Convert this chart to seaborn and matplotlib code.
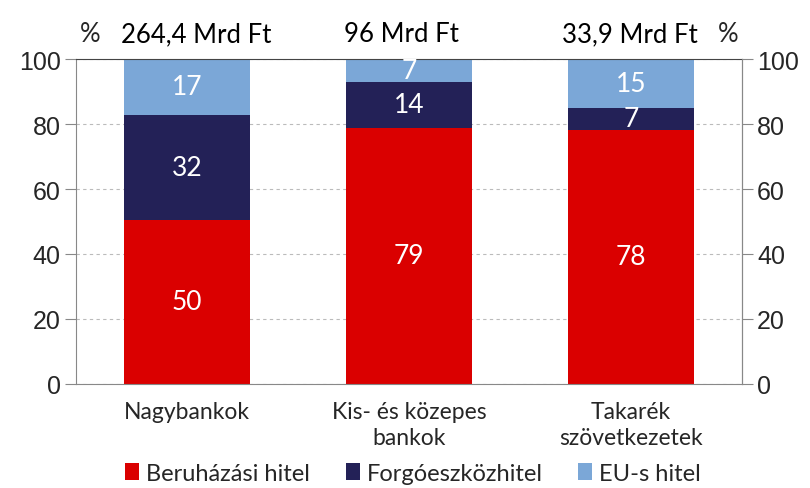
import matplotlib
matplotlib.use('Agg')
import matplotlib.pyplot as plt
import seaborn as sns
import pandas as pd
from matplotlib.patches import Patch

# data (shares, %)
categories = ['Nagybankok', 'Kis- és közepes\nbankok', 'Takarék\nszövetkezetek']
totals = ['264,4 Mrd Ft', '96 Mrd Ft', '33,9 Mrd Ft']
beruhazasi = [50.6, 78.8, 78.2]
forgoeszkoz = [32.3, 14.2, 6.8]
eu_hitel = [17.1, 7.0, 15.0]
label_beru = ['50', '79', '78']
label_forgo = ['32', '14', '7']
label_eu = ['17', '7', '15']
yticks = [0, 20, 40, 60, 80, 100]

series_names = ['Beruházási hitel', 'Forgóeszközhitel', 'EU-s hitel']
colors = ['#DA0000', '#232157', '#7BA7D7']

sns.set_style('white')
plt.rcParams['font.family'] = ['Lato', 'DejaVu Sans']

df = pd.DataFrame({'cat': categories, 'beru': beruhazasi,
                   'forgo': forgoeszkoz, 'eu': eu_hitel})
df['c1'] = df['beru']
df['c2'] = df['beru'] + df['forgo']
df['c3'] = df['c2'] + df['eu']

fig, ax = plt.subplots(figsize=(8.1, 4.89), dpi=100)
fig.subplots_adjust(left=0.0938, right=0.916, top=0.877, bottom=0.213)

# draw from the top of the stack down so lower segments cover upper ones
for col, color in zip(['c3', 'c2', 'c1'], colors[::-1]):
    sns.barplot(data=df, x='cat', y=col, color=color, width=0.567,
                saturation=1, ax=ax, edgecolor='none')

ax.set_ylim(0, 100)
ax.set_xlim(-0.5, 2.5)
ax.set_yticks(yticks, labels=[str(v) for v in yticks],
              fontfamily='Liberation Sans', fontsize=18)
ax.set_xlabel('')
ax.set_ylabel('')
ax.yaxis.grid(True, linestyle=(0, (3, 3)), color='#BBBBBB', linewidth=0.8)
ax.set_axisbelow(True)
ax.tick_params(axis='y', direction='out', length=8, color='#888888', pad=3)
ax.tick_params(axis='x', length=0, labelsize=16.5, pad=12)
for lbl in ax.get_xticklabels():
    lbl.set_linespacing(1.3)
for s in ['left', 'right', 'bottom']:
    ax.spines[s].set_color('#888888')
ax.spines['top'].set_color('#444444')

ax2 = ax.twinx()
ax2.set_ylim(0, 100)
ax2.set_yticks(yticks, labels=[str(v) for v in yticks],
               fontfamily='Liberation Sans', fontsize=18)
ax2.tick_params(axis='y', direction='out', length=8, color='#888888', pad=3)
for s in ax2.spines.values():
    s.set_visible(False)
ax2.spines['right'].set_visible(True)
ax2.spines['right'].set_color('#888888')

# segment labels
for i in range(len(categories)):
    bottoms = [0, df['c1'][i], df['c2'][i]]
    heights = [beruhazasi[i], forgoeszkoz[i], eu_hitel[i]]
    labs = [label_beru[i], label_forgo[i], label_eu[i]]
    for b, h, t in zip(bottoms, heights, labs):
        ax.text(i, b + h / 2, t, ha='center', va='center', color='white', fontsize=19)

# totals above bars and % units
total_x = [0.04, 0.967, 1.997]
for x, t in zip(total_x, totals):
    ax.text(x, 104, t, ha='center', va='bottom', fontsize=18.5, color='black')
ax.text(-0.437, 104, '%', ha='center', va='bottom', fontsize=18.5)
ax.text(2.437, 104, '%', ha='center', va='bottom', fontsize=18.5)

handles = [Patch(facecolor=c, edgecolor='none') for c in colors]
fig.legend(handles, series_names, loc='lower center', ncol=3, frameon=False,
           fontsize=17, bbox_to_anchor=(0.51, -0.035), handlelength=0.6,
           handleheight=0.7, handletextpad=0.3, columnspacing=1.5)

plt.savefig('out.png', dpi=100)
plt.close()
